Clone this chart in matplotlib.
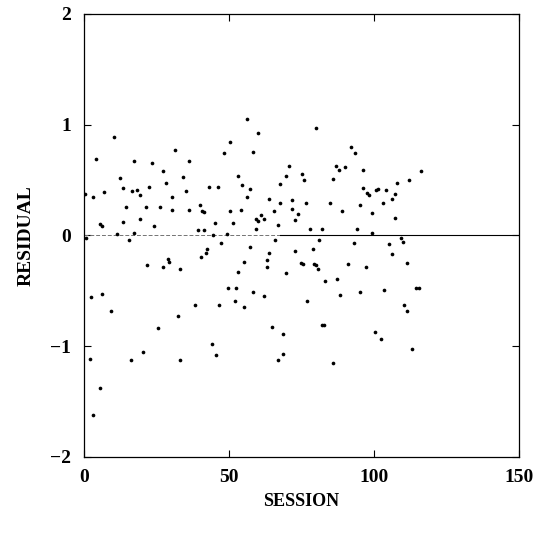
import matplotlib
matplotlib.use("Agg")
import matplotlib.pyplot as plt

# session number and residual
session = [
    0.5, 0.6, 2.2, 2.3, 3.0, 3.2, 4.2, 5.5, 5.5, 6.2, 6.3, 7.1, 9.4, 10.4, 11.5,
    12.3, 13.4, 13.5, 14.6, 15.4, 16.4, 16.5, 17.4, 17.4, 18.4, 19.3, 19.4, 20.5,
    21.5, 21.7, 22.4, 23.5, 24.3, 25.4, 26.3, 27.2, 27.4, 28.3, 29.1, 29.5, 30.4,
    30.5, 31.6, 32.4, 33.1, 33.2, 34.2, 35.2, 36.3, 36.3, 38.3, 39.3, 40.2, 40.7,
    40.3, 41.4, 41.6, 42.2, 42.5, 43.2, 44.3, 44.5, 45.3, 45.4, 46.4, 46.5, 47.4,
    48.5, 49.4, 49.6, 50.5, 50.5, 51.3, 52.2, 52.3, 53.0, 53.2, 54.2, 54.4, 55.1,
    55.3, 56.2, 56.2, 57.2, 57.2, 58.2, 58.2, 59.2, 59.5, 60.1, 60.1, 61.1, 62.0,
    62.0, 63.1, 63.1, 63.8, 64.0, 65.0, 65.7, 65.9, 66.8, 66.8, 67.7, 67.8, 68.8,
    68.8, 69.7, 69.8, 70.8, 71.7, 71.7, 72.8, 72.9, 73.9, 75.1, 75.8, 75.0, 75.5,
    76.7, 76.8, 77.9, 78.9, 79.3, 80.0, 80.9, 80.0, 81.0, 82.1, 82.1, 82.9, 83.1,
    85.0, 86.0, 86.0, 86.9, 87.2, 88.0, 88.2, 88.9, 90.0, 91.2, 92.1, 93.6, 93.3,
    94.2, 95.1, 95.2, 96.1, 96.3, 97.5, 98.3, 97.2, 99.3, 99.3, 100.4, 100.7, 101.5,
    102.5, 103.3, 103.4, 104.2, 105.4, 106.1, 106.4, 107.2, 107.3, 108.1, 109.3,
    110.2, 110.5, 111.5, 111.3, 112.1, 113.2, 114.7, 115.5, 116.1,
]
residual = [
    0.37, -0.02, -1.12, -0.56, 0.35, -1.62, 0.69, -1.38, 0.10, -0.53, 0.08, 0.39,
    -0.68, 0.89, 0.01, 0.52, 0.43, 0.12, 0.26, -0.04, -1.13, 0.40, 0.67, 0.02,
    0.41, 0.36, 0.15, -1.05, 0.26, -0.27, 0.44, 0.65, 0.08, -0.84, 0.26, 0.58,
    -0.29, 0.47, -0.21, -0.24, 0.35, 0.23, 0.77, -0.73, -1.13, -0.30, 0.53, 0.40,
    0.67, 0.23, -0.63, 0.05, 0.27, 0.22, -0.20, 0.05, 0.21, -0.16, -0.12, 0.44,
    -0.98, 0.00, 0.11, -1.08, 0.44, -0.63, -0.07, 0.74, 0.01, -0.48, 0.84, 0.22,
    0.11, -0.59, -0.48, 0.54, -0.33, 0.23, 0.45, -0.24, -0.65, 1.05, 0.35, 0.42,
    -0.11, -0.51, 0.75, 0.06, 0.15, 0.13, 0.92, 0.18, 0.15, -0.55, -0.22, -0.29,
    0.33, -0.16, -0.83, 0.22, -0.04, 0.09, -1.13, 0.29, 0.46, -0.89, -1.07, 0.54,
    -0.34, 0.63, 0.32, 0.24, -0.14, 0.14, 0.19, 0.55, 0.50, -0.25, -0.26, 0.29,
    -0.59, 0.06, -0.12, -0.26, -0.27, -0.30, 0.97, -0.04, 0.06, -0.81, -0.81,
    -0.41, 0.29, 0.51, -1.15, 0.63, -0.39, 0.59, -0.54, 0.22, 0.62, -0.26, 0.80,
    0.74, -0.07, 0.06, 0.27, -0.51, 0.59, 0.43, 0.38, 0.36, -0.29, 0.20, 0.02,
    -0.87, 0.41, 0.42, -0.94, 0.29, -0.49, 0.41, -0.08, 0.33, -0.17, 0.37, 0.16,
    0.47, -0.02, -0.06, -0.63, -0.68, -0.25, 0.50, -1.03, -0.48, -0.48, 0.58,
]

xticks = [0, 50, 100, 150]
yticks = [-2, -1, 0, 1, 2]

fig = plt.figure(figsize=(5.41, 5.33), dpi=100)
ax = fig.add_axes([0.155, 0.143, 0.804, 0.831])

ax.scatter(session, residual, s=7, color="black", linewidths=0, zorder=3)
# zero reference line, fainter on the left as in the scan
ax.axhline(0, xmax=0.45, color="0.45", lw=0.7, ls=(0, (4, 2)), zorder=2)
ax.axhline(0, xmin=0.45, color="black", lw=0.8, zorder=2)

ax.set_xlim(0, 150)
ax.set_ylim(-2, 2)
ax.set_xticks(xticks)
ax.set_yticks(yticks)

font = {"family": "Liberation Serif", "weight": "bold", "size": 14}
ax.set_xticklabels([str(t) for t in xticks], fontdict=font)
ax.set_yticklabels(["\u22122", "\u22121", "0", "1", "2"], fontdict=font)
ax.tick_params(direction="in", length=5, width=0.8, top=True, right=True, pad=9)

for sp in ax.spines.values():
    sp.set_linewidth(0.9)

ax.set_xlabel("SESSION", family="Liberation Serif", weight="bold", fontsize=13, labelpad=5)
ax.set_ylabel("RESIDUAL", family="Liberation Serif", weight="bold", fontsize=14, labelpad=11)

fig.savefig("out.png", dpi=100)
